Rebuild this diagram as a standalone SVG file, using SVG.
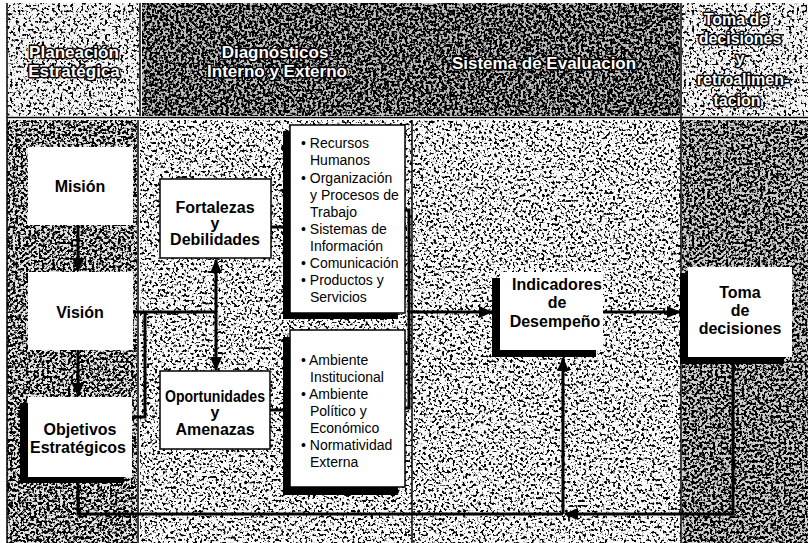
<svg xmlns="http://www.w3.org/2000/svg" width="808" height="543" viewBox="0 0 808 543">
<defs>
<style>
.hd{font-family:"Liberation Sans",Arial,sans-serif;font-weight:bold;font-size:17px;fill:#fff;stroke:#000;stroke-width:3;paint-order:stroke;text-anchor:middle;stroke-linejoin:round}
.h4{font-size:16px}
.bt{font-family:"Liberation Sans",Arial,sans-serif;font-weight:bold;font-size:16px;fill:#000;text-anchor:middle}
.bl{font-family:"Liberation Sans",Arial,sans-serif;font-size:14px;fill:#000}
.box{fill:#fff;stroke:#000;stroke-width:1.5}
.wb{fill:#fff}
.sh{fill:#000}
.ln{fill:none;stroke:#000;stroke-width:3}
.thin{fill:none;stroke:#000;stroke-width:1.5}
.ar{marker-end:url(#ah)}
</style>
<marker id="ah" viewBox="0 0 14 12" markerWidth="14" markerHeight="12" refX="13" refY="6" orient="auto-start-reverse" markerUnits="userSpaceOnUse">
<path d="M0,0 L14,6 L0,12 z" fill="#000"/>
</marker>
<filter id="fLight" x="0" y="0" width="1" height="1" color-interpolation-filters="sRGB">
<feTurbulence type="fractalNoise" baseFrequency="0.38" numOctaves="2" seed="3" result="n"/>
<feColorMatrix in="n" type="matrix" values="0 0 0 0 0  0 0 0 0 0  0 0 0 0 0  -9 0 0 0 4.1" result="d"/>
<feMerge><feMergeNode in="SourceGraphic"/><feMergeNode in="d"/></feMerge>
</filter>
<filter id="fMid" x="0" y="0" width="1" height="1" color-interpolation-filters="sRGB">
<feTurbulence type="fractalNoise" baseFrequency="0.38" numOctaves="2" seed="7" result="n"/>
<feColorMatrix in="n" type="matrix" values="0 0 0 0 0  0 0 0 0 0  0 0 0 0 0  -9 0 0 0 4.2" result="d"/>
<feMerge><feMergeNode in="SourceGraphic"/><feMergeNode in="d"/></feMerge>
</filter>
<filter id="fDark" x="0" y="0" width="1" height="1" color-interpolation-filters="sRGB">
<feTurbulence type="fractalNoise" baseFrequency="0.38" numOctaves="2" seed="11" result="n"/>
<feColorMatrix in="n" type="matrix" values="0 0 0 0 0  0 0 0 0 0  0 0 0 0 0  -9 0 0 0 4.95" result="d"/>
<feMerge><feMergeNode in="SourceGraphic"/><feMergeNode in="d"/></feMerge>
</filter>
<filter id="fHead" x="0" y="0" width="1" height="1" color-interpolation-filters="sRGB">
<feTurbulence type="fractalNoise" baseFrequency="0.38" numOctaves="2" seed="19" result="n"/>
<feColorMatrix in="n" type="matrix" values="0 0 0 0 0  0 0 0 0 0  0 0 0 0 0  -9 0 0 0 5.15" result="d"/>
<feMerge><feMergeNode in="SourceGraphic"/><feMergeNode in="d"/></feMerge>
</filter>
</defs>

<rect x="0" y="0" width="808" height="543" fill="#fff"/>

<g id="background">
<rect x="7" y="3" width="133" height="113" fill="#f4f4f4" filter="url(#fLight)"/>
<rect x="142" y="3" width="538" height="113" fill="#bdbdbd" filter="url(#fHead)"/>
<rect x="682" y="3" width="126" height="113" fill="#f4f4f4" filter="url(#fLight)"/>
<rect x="7" y="120" width="130" height="423" fill="#e4e4e4" filter="url(#fDark)"/>
<rect x="140" y="120" width="272" height="423" fill="#fafafa" filter="url(#fMid)"/>
<rect x="413" y="120" width="268" height="423" fill="#fafafa" filter="url(#fMid)"/>
<rect x="682" y="120" width="126" height="423" fill="#cfcfcf" filter="url(#fDark)"/>
<path class="thin" d="M7,3 V543 M140,3 V116 M138,120 V543 M412,120 V543 M681,3 V543 M7,117.5 H808"/>
</g>

<g id="headers">
<text class="hd" x="74" y="58">Planeación</text>
<text class="hd" x="74" y="77">Estratégica</text>
<text class="hd" x="275" y="58">Diagnósticos</text>
<text class="hd" x="277" y="77">Interno y Externo</text>
<text class="hd" x="544" y="69">Sistema de Evaluacion</text>
<text class="hd h4" x="736" y="25">Toma de</text>
<text class="hd h4" x="740" y="44">decisiones</text>
<text class="hd h4" x="740" y="64">y</text>
<text class="hd h4" x="743" y="85">retroalimen-</text>
<text class="hd h4" x="737" y="106">tacion</text>
</g>

<g id="connectors">
<path class="ln ar" d="M78,225 V271"/>
<path class="ln ar" d="M78,350 V396"/>
<path class="ln" d="M216,260 V370" marker-start="url(#ah)" marker-end="url(#ah)"/>
<path class="ln" d="M133,312 H216"/>
<path class="ln" d="M132,417 H145 V312"/>
<path class="ln" d="M271,227 H284"/>
<path class="ln" d="M270,410 H284"/>
<path class="ln" d="M405,210 H409 V408 H405"/>
<path class="ln ar" d="M409,312 H492"/>
<path class="ln ar" d="M603,312 H680"/>
<path class="ln" d="M78,483 V514 H563"/>
<path class="ln ar" d="M563,514 V358"/>
<path class="ln ar" d="M733,364 V514 H565"/>
</g>

<g id="mision">
<rect class="wb" x="28" y="147" width="105" height="78"/>
<text class="bt" x="80" y="192">Misión</text>
</g>

<g id="vision">
<rect class="wb" x="28" y="272" width="105" height="78"/>
<text class="bt" x="80" y="318">Visión</text>
</g>

<g id="objetivos">
<rect class="sh" x="20" y="403" width="104" height="80"/>
<rect class="wb" x="28" y="397" width="104" height="80"/>
<text class="bt" x="80" y="435">Objetivos</text>
<text class="bt" x="78" y="453">Estratégicos</text>
</g>

<g id="fortalezas">
<rect class="box" x="160" y="179" width="111" height="79"/>
<text class="bt" x="215" y="213">Fortalezas</text>
<text class="bt" x="215" y="229">y</text>
<text class="bt" x="215" y="245">Debilidades</text>
</g>

<g id="oportunidades">
<rect class="box" x="160" y="371" width="110" height="78"/>
<text class="bt" x="215" y="402" textLength="100" lengthAdjust="spacingAndGlyphs">Oportunidades</text>
<text class="bt" x="215" y="418">y</text>
<text class="bt" x="215" y="435">Amenazas</text>
</g>

<g id="interno">
<rect class="sh" x="283" y="131" width="115" height="188"/>
<rect class="box" x="290" y="125" width="115" height="188"/>
<text class="bl" x="301" y="148">• Recursos</text>
<text class="bl" x="310" y="165">Humanos</text>
<text class="bl" x="301" y="183">• Organización</text>
<text class="bl" x="310" y="200">y Procesos de</text>
<text class="bl" x="310" y="217">Trabajo</text>
<text class="bl" x="301" y="234">• Sistemas de</text>
<text class="bl" x="310" y="251">Información</text>
<text class="bl" x="301" y="268">• Comunicación</text>
<text class="bl" x="301" y="285">• Productos y</text>
<text class="bl" x="310" y="302">Servicios</text>
</g>

<g id="externo">
<rect class="sh" x="283" y="337" width="115" height="158"/>
<rect class="box" x="290" y="330" width="115" height="157"/>
<text class="bl" x="301" y="365">• Ambiente</text>
<text class="bl" x="310" y="382">Institucional</text>
<text class="bl" x="301" y="399">• Ambiente</text>
<text class="bl" x="310" y="416">Político y</text>
<text class="bl" x="310" y="433">Económico</text>
<text class="bl" x="301" y="450">• Normatividad</text>
<text class="bl" x="310" y="467">Externa</text>
</g>

<g id="indicadores">
<rect class="sh" x="492" y="278" width="104" height="79"/>
<rect class="wb" x="500" y="272" width="103" height="78"/>
<text class="bt" x="557" y="290">Indicadores</text>
<text class="bt" x="557" y="308">de</text>
<text class="bt" x="555" y="327">Desempeño</text>
</g>

<g id="toma">
<rect class="sh" x="680" y="273" width="104" height="91"/>
<rect class="wb" x="688" y="267" width="104" height="90"/>
<text class="bt" x="740" y="298">Toma</text>
<text class="bt" x="740" y="316">de</text>
<text class="bt" x="740" y="334">decisiones</text>
</g>
</svg>
